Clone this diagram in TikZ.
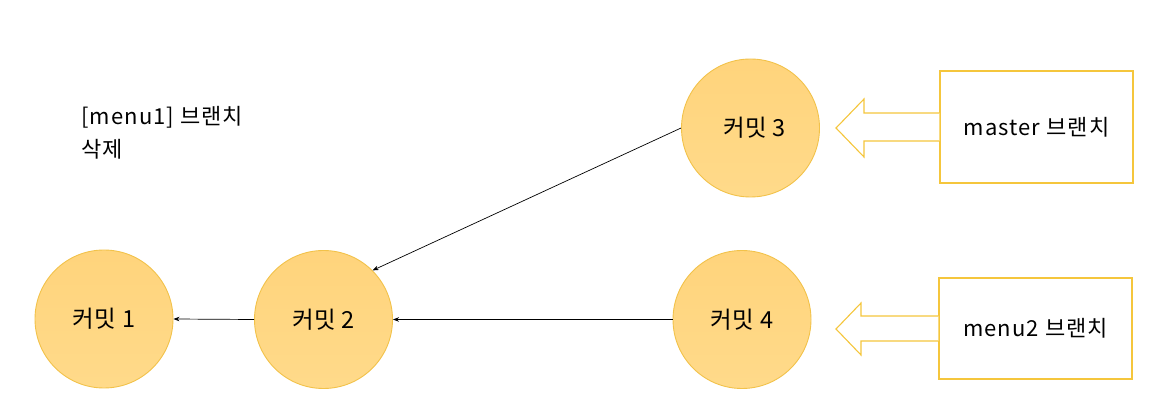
\documentclass[tikz,border=0pt]{standalone}
\usepackage{fontspec}
\setmainfont{Noto Sans CJK KR}
\usetikzlibrary{arrows.meta,calc}
\definecolor{cborder}{HTML}{F2C24A}
\definecolor{ctop}{HTML}{FFD47C}
\definecolor{cbot}{HTML}{FFDA8A}
\definecolor{bborder}{HTML}{F5C63C}
\newfontfamily\widefont[LetterSpace=5]{Noto Sans CJK KR}
\newfontfamily\circfont[LetterSpace=3]{Noto Sans CJK KR}
\tikzset{
  commit/.style={circle, draw=cborder, line width=0.9pt, top color=ctop, bottom color=cbot, minimum size=138pt, inner sep=0pt, font=\circfont\fontsize{23.5pt}{26pt}\selectfont},
  branchbox/.style={draw=bborder, line width=1.1pt, fill=white, minimum width=193pt, minimum height=110pt, inner sep=0pt, font=\widefont\fontsize{22pt}{26pt}\selectfont},
  blockarrow/.style={draw=bborder, line width=1.1pt, fill=white, line join=miter},
  link/.style={draw=black, line width=0.7pt, -{Stealth[length=6pt,width=4.5pt]}},
}
\begin{document}
\begin{tikzpicture}[x=1pt,y=1pt]
\useasboundingbox (0,0) rectangle (1160,415);
\node[commit] (c1) at (104,96) {커밋 1};
\node[commit] (c2) at (323.5,95.5) {커밋 2};
\node[commit] (c3) at (750.5,287) {\hspace*{8pt}커밋 3};
\node[commit] (c4) at (742,95.5) {커밋 4};
\node[branchbox, minimum height=112pt] (m3) at (1036.5,288) {master 브랜치};
\node[branchbox, minimum height=101pt] (m2) at (1035.5,86.5) {menu2 브랜치};
\node[anchor=north west, align=left, inner sep=0pt, font=\widefont\fontsize{22pt}{33pt}\selectfont] (lbl) at (81,309) {[menu1] 브랜치\\삭제};
% block arrows
\draw[blockarrow] ($(m3.west)+(0,14)$) -- (864,302) -- (864,316) -- (836,287) -- (864,258) -- (864,274) -- ($(m3.west)+(0,-14)$);
\draw[blockarrow] ($(m2.west)+(0,12.5)$) -- (861,99) -- (861,112) -- (836,86) -- (861,60) -- (861,74) -- ($(m2.west)+(0,-12.5)$);
% connectors
\draw[link] (c3.west) -- (c2.45);
\draw[link] (c4.west) -- (c2.east);
\draw[link] (c2.west) -- (c1.east);
\end{tikzpicture}
\end{document}
